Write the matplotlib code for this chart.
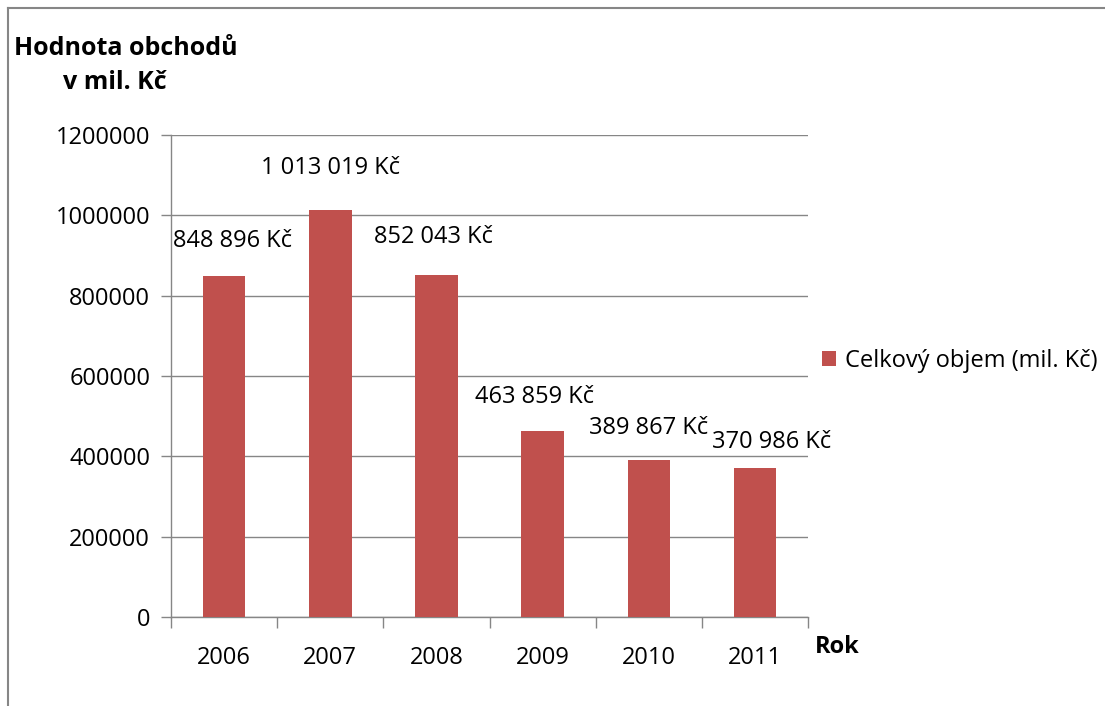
import matplotlib.pyplot as plt
from matplotlib.lines import Line2D
import numpy as np

years = ['2006', '2007', '2008', '2009', '2010', '2011']
values = [848896, 1013019, 852043, 463859, 389867, 370986]
labels = ['848 896 Kč', '1 013 019 Kč', '852 043 Kč', '463 859 Kč', '389 867 Kč', '370 986 Kč']
series_name = 'Celkový objem (mil. Kč)'

plt.rcParams['font.family'] = ['Open Sans', 'DejaVu Sans']
bar_color = '#C0504D'
grid_color = '#868686'
fs = 17

fig = plt.figure(figsize=(11.05, 7.06), dpi=100)
ax = fig.add_axes([0.1548, 0.1261, 0.5765, 0.6827])

x = np.arange(len(years))
bars = ax.bar(x, values, width=0.4, color=bar_color, zorder=3, label=series_name)

ax.set_xlim(-0.5, len(years) - 0.5)
ax.set_ylim(0, 1200000)
ax.set_yticks(np.arange(0, 1200001, 200000))
ax.set_yticklabels([str(v) for v in range(0, 1200001, 200000)], fontsize=fs)
ax.yaxis.grid(True, color=grid_color, linewidth=1, zorder=0)

# category boundaries as major ticks, labels on minor ticks
ax.set_xticks(np.arange(-0.5, len(years), 1.0))
ax.set_xticklabels([])
ax.set_xticks(x, minor=True)
ax.set_xticklabels(years, minor=True, fontsize=fs)
ax.tick_params(axis='x', which='major', length=8, color=grid_color, width=1)
ax.tick_params(axis='x', which='minor', length=0, pad=21)
ax.tick_params(axis='y', length=7, color=grid_color, width=1, pad=8)

for s in ['top', 'right']:
    ax.spines[s].set_visible(False)
for s in ['left', 'bottom']:
    ax.spines[s].set_color(grid_color)
    ax.spines[s].set_linewidth(1)

# data labels, nudged like the original
offsets = [(6, 25), (0, 30), (-2, 27), (-6, 24), (0, 23), (12, 19)]
for xi, v, lab, off in zip(x, values, labels, offsets):
    ax.annotate(lab, (xi, v), xytext=off, textcoords='offset points',
                ha='center', va='center', fontsize=fs)

fig.text(0.013, 0.932, 'Hodnota obchodů', fontsize=18, fontweight='bold', va='center')
fig.text(0.104, 0.883, 'v mil. Kč', fontsize=18, fontweight='bold', ha='center', va='center')
fig.text(0.737, 0.083, 'Rok', fontsize=fs, fontweight='bold', va='center')

ax.legend(loc='center left', bbox_to_anchor=(1.0, 0.531), frameon=False, fontsize=fs,
          handlelength=0.6, handleheight=0.6, handletextpad=0.35, borderaxespad=0.2)

# outer chart border (top and left visible)
fig.add_artist(Line2D([0.0072, 1.0], [0.9887, 0.9887], color=grid_color, linewidth=1.5,
                      transform=fig.transFigure))
fig.add_artist(Line2D([0.0072, 0.0072], [0.0, 0.9887], color=grid_color, linewidth=1.5,
                      transform=fig.transFigure))

fig.savefig('out.png', dpi=100)
